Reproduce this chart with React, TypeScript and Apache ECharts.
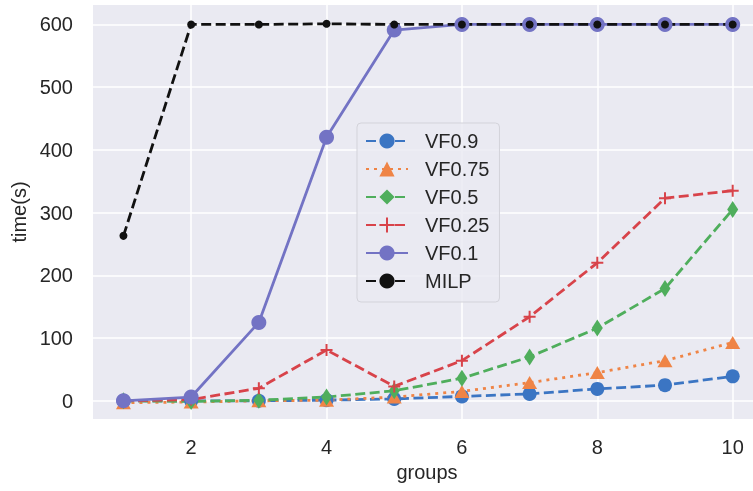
import React, { useEffect, useRef } from "react";
import * as echarts from "echarts";

const groups = [1, 2, 3, 4, 5, 6, 7, 8, 9, 10];
const vf09 = [0, 0, 0, 1, 3, 7, 11, 19, 25, 39];
const vf075 = [-3, -2, 0, 1, 6, 15, 29, 45, 64, 93];
const vf05 = [0, -1, 1, 6, 16, 36, 70, 116, 179, 305];
const vf025 = [0, 2, 20, 81, 23, 64, 134, 220, 323, 335];
const vf01 = [0, 6, 125, 420, 591, 600, 600, 600, 600, 600];
const milp = [263, 600, 600, 601, 600, 600, 600, 600, 600, 600];
const xTicks = [2, 4, 6, 8, 10];
const yTicks = [0, 100, 200, 300, 400, 500, 600];

const FONT = "Liberation Sans, Arial, sans-serif";
const PLUS = "path://M5,0 L5,10 M0,5 L10,5";

function pairs(ys: number[]) {
  return groups.map((g, i) => [g, ys[i]]);
}

export default function App() {
  const ref = useRef<HTMLDivElement>(null);
  useEffect(() => {
    const chart = echarts.init(ref.current!, null, { renderer: "svg" });
    const mk = (
      name: string,
      ys: number[],
      color: string,
      type: any,
      symbol: string,
      symbolSize: any,
      extra: any = {}
    ) => ({
      name,
      type: "line",
      data: pairs(ys),
      symbol,
      symbolSize,
      showAllSymbol: true,
      lineStyle: { color, width: 2.8, type, cap: "butt" },
      itemStyle: { color, borderWidth: 0 },
      ...extra,
    });
    chart.setOption({
      animation: false,
      grid: {
        left: 93,
        top: 5,
        right: 0,
        bottom: 72,
        show: true,
        backgroundColor: "#eaeaf2",
        borderWidth: 0,
      },
      xAxis: {
        type: "value",
        min: 0.55,
        max: 10.3,
        name: "groups",
        nameLocation: "middle",
        nameGap: 43,
        nameTextStyle: {
          fontFamily: FONT,
          fontSize: 20,
          color: "#262626",
          padding: [0, 0, 0, 8],
        },
        axisLine: { show: false },
        axisTick: { show: false, customValues: xTicks },
        axisLabel: {
          customValues: xTicks,
          fontFamily: FONT,
          fontSize: 20,
          color: "#262626",
          margin: 18,
        },
        splitLine: { show: true, lineStyle: { color: "#ffffff", width: 1.5 } },
      },
      yAxis: {
        type: "value",
        min: -29,
        max: 631,
        name: "time(s)",
        nameLocation: "middle",
        nameGap: 57,
        nameTextStyle: { fontFamily: FONT, fontSize: 20, color: "#262626" },
        axisLine: { show: false },
        axisTick: { show: false, customValues: yTicks },
        axisLabel: {
          customValues: yTicks,
          fontFamily: FONT,
          fontSize: 20,
          color: "#262626",
          margin: 20,
        },
        splitLine: { show: true, lineStyle: { color: "#ffffff", width: 1.5 } },
      },
      legend: {
        orient: "vertical",
        left: 357,
        top: 123,
        padding: [8, 10, 11, 8],
        itemWidth: 42,
        itemHeight: 19,
        itemGap: 8,
        backgroundColor: "rgba(234,234,242,0.85)",
        borderColor: "#d3d3da",
        borderWidth: 1,
        borderRadius: 4,
        textStyle: {
          fontFamily: FONT,
          fontSize: 20,
          color: "#262626",
          padding: [0, 0, 0, 12],
        },
        data: ["VF0.9", "VF0.75", "VF0.5", "VF0.25", "VF0.1", "MILP"],
      },
      series: [
        mk("VF0.9", vf09, "#3b75c3", [10, 4.5], "circle", 14),
        mk("VF0.75", vf075, "#ef8446", [3, 5], "triangle", [15, 13]),
        mk("VF0.5", vf05, "#4fae5c", [10, 4.5], "diamond", [11, 17]),
        mk("VF0.25", vf025, "#d8434a", [10, 4.5], PLUS, 12, {
          itemStyle: { color: "#d8434a", borderColor: "#d8434a", borderWidth: 2 },
        }),
        mk("VF0.1", vf01, "#7373c4", "solid", "circle", 15),
        mk("MILP", milp, "#111111", [10, 4.5], "circle", 8),
      ],
    });
    return () => chart.dispose();
  }, []);
  return (
    <div
      ref={ref}
      style={{ position: "fixed", left: 0, top: 0, width: 753, height: 491 }}
    />
  );
}
